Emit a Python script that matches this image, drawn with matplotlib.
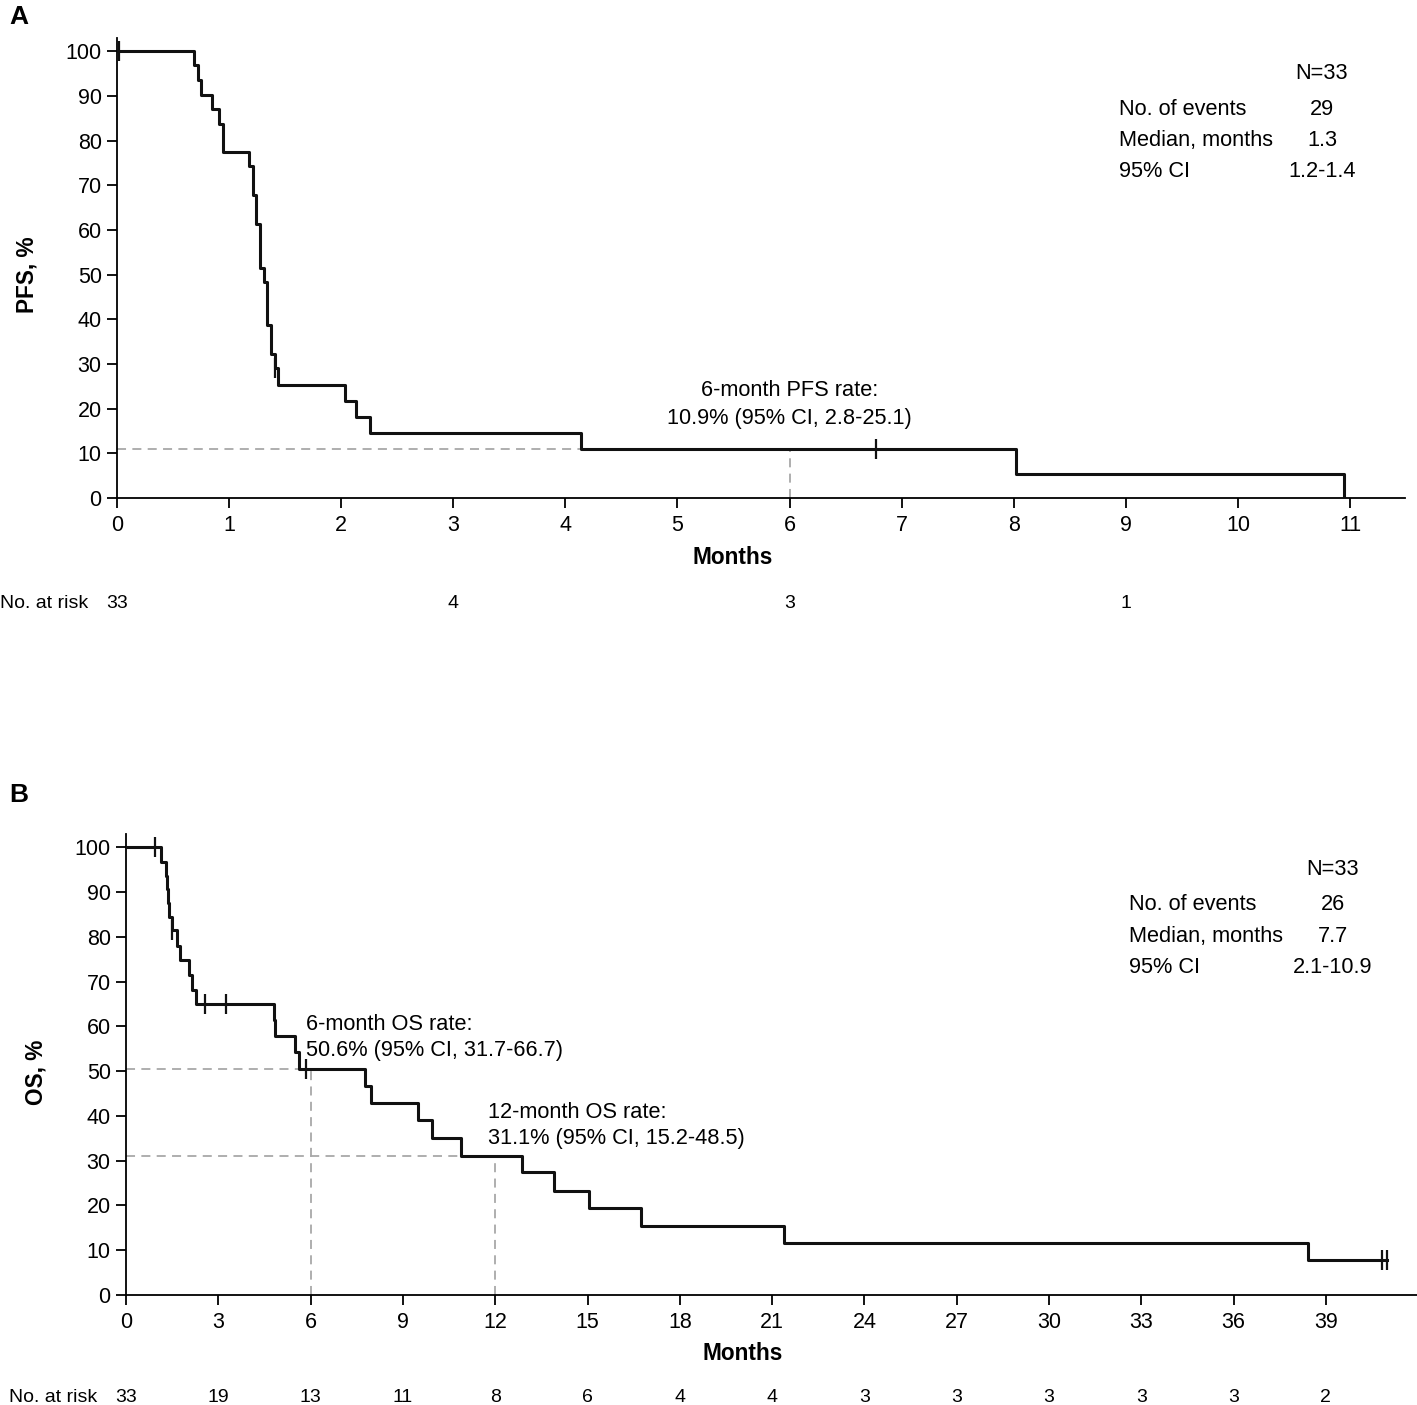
import matplotlib
matplotlib.use("Agg")
import matplotlib.pyplot as plt
import matplotlib.transforms as mtransforms

plt.rcParams['font.family'] = ['Liberation Sans', 'DejaVu Sans']

W, H = 1417, 1405

# ---- panel A: PFS ----
pfs_time = [0, 0.69, 0.72, 0.75, 0.85, 0.91, 0.95, 1.18, 1.21, 1.24, 1.28, 1.31,
            1.34, 1.37, 1.41, 1.44, 2.03, 2.13, 2.26, 4.14, 8.02, 10.95]
pfs_surv = [100, 97.0, 93.6, 90.3, 87.0, 83.8, 77.4, 74.3, 67.8, 61.4, 51.5, 48.3,
            38.7, 32.3, 29.0, 25.3, 21.7, 18.1, 14.5, 10.9, 5.4, 0]
pfs_cens_time = [0.02, 1.41, 6.77]
pfs_cens_surv = [100, 29.0, 10.9]
pfs_rate_6m = 10.9
pfs_xticks = list(range(0, 12))
pfs_risk_time = [0, 3, 6, 9]
pfs_risk_n = [33, 4, 3, 1]
pfs_stats_labels = ["No. of events", "Median, months", "95% CI"]
pfs_stats_values = ["29", "1.3", "1.2-1.4"]

# ---- panel B: OS ----
os_time = [0, 1.13, 1.30, 1.33, 1.36, 1.41, 1.51, 1.67, 1.75, 2.06, 2.14, 2.27,
           4.80, 4.85, 5.49, 5.62, 7.77, 7.95, 9.48, 9.93, 10.89, 12.86, 13.91,
           15.05, 16.73, 21.39, 38.42, 40.97]
os_surv = [100, 96.8, 93.6, 90.6, 87.6, 84.4, 81.5, 78.0, 74.8, 71.6, 68.2, 65.0,
           61.4, 57.8, 54.4, 50.6, 46.6, 42.8, 39.0, 35.0, 31.1, 27.4, 23.3,
           19.4, 15.5, 11.7, 7.8, 7.8]
os_cens_time = [0.94, 1.51, 2.57, 3.25, 5.85, 40.81, 40.97]
os_cens_surv = [100, 81.5, 65.0, 65.0, 50.6, 7.8, 7.8]
os_rate_6m = 50.6
os_rate_12m = 31.1
os_xticks = list(range(0, 40, 3))
os_risk_time = list(range(0, 40, 3))
os_risk_n = [33, 19, 13, 11, 8, 6, 4, 4, 3, 3, 3, 3, 3, 2]
os_stats_values = ["26", "7.7", "2.1-10.9"]

yticks = list(range(0, 101, 10))

FS = 15.7      # annotation / stats text
FS_TICK = 15.5
FS_LAB = 16.3
FS_RISK = 14

fig = plt.figure(figsize=(W / 100, H / 100), dpi=100)


def fx(px):
    return px / W


def fy(py):
    return 1 - py / H


def style_axes(ax, xmax, xticks):
    ax.set_xlim(0, xmax)
    ax.set_ylim(0, 103)
    ax.set_xticks(xticks)
    ax.set_yticks(yticks)
    for s in ["top", "right"]:
        ax.spines[s].set_visible(False)
    for s in ["left", "bottom"]:
        ax.spines[s].set_linewidth(1.3)
    ax.tick_params(direction="out", length=7, width=1.3, labelsize=FS_TICK, pad=4)
    ax.tick_params(axis="x", pad=5.5)


def km(ax, t, s, ct, cs):
    ax.plot(t, s, drawstyle="steps-post", color="#111111", lw=2.2, zorder=3)
    ax.plot(ct, cs, ls="none", marker="|", ms=14, mew=1.6, color="#111111", zorder=4)


dash = dict(color="#a8a8a8", lw=1.3, dashes=(5, 3.5), zorder=2)

# ---------------- Panel A ----------------
axA = fig.add_axes([fx(117), fy(498), fx(1405) - fx(117), fy(38) - fy(498)])
style_axes(axA, 11.49, pfs_xticks)
axA.plot([0, 6], [pfs_rate_6m, pfs_rate_6m], **dash)
axA.plot([6, 6], [0, pfs_rate_6m], **dash)
km(axA, pfs_time, pfs_surv, pfs_cens_time, pfs_cens_surv)

axA.text(6, 24.0, "6-month PFS rate:", ha="center", va="center", fontsize=FS)
axA.text(6, 17.8, "10.9% (95% CI, 2.8-25.1)", ha="center", va="center", fontsize=FS)

axA.text(10.75, 95.0, "N=33", ha="center", va="center", fontsize=FS)
for lab, val, yy in zip(pfs_stats_labels, pfs_stats_values, [87.1, 80.0, 73.0]):
    axA.text(8.94, yy, lab, ha="left", va="center", fontsize=FS)
    axA.text(10.75, yy, val, ha="center", va="center", fontsize=FS)

trA = mtransforms.blended_transform_factory(axA.transData, fig.transFigure)
for t, n in zip(pfs_risk_time, pfs_risk_n):
    axA.text(t, fy(604), str(n), transform=trA, ha="center", va="center", fontsize=FS_RISK)
fig.text(fx(88), fy(604), "No. at risk", ha="right", va="center", fontsize=FS_RISK)

fig.text(fx(733), fy(558), "Months", ha="center", va="center", fontsize=FS_LAB, fontweight="bold")
fig.text(fx(27), fy(275), "PFS, %", ha="center", va="center", rotation=90,
         fontsize=FS_LAB, fontweight="bold")
fig.text(fx(9), fy(17), "A", ha="left", va="center", fontsize=19, fontweight="bold")

# ---------------- Panel B ----------------
axB = fig.add_axes([fx(126), fy(1295), fx(1417) - fx(126), fy(834) - fy(1295)])
style_axes(axB, 41.96, os_xticks)
axB.plot([0, 6], [os_rate_6m, os_rate_6m], **dash)
axB.plot([6, 6], [0, os_rate_6m], **dash)
axB.plot([0, 12], [os_rate_12m, os_rate_12m], **dash)
axB.plot([12, 12], [0, os_rate_12m], **dash)
km(axB, os_time, os_surv, os_cens_time, os_cens_surv)

axB.text(5.85, 60.4, "6-month OS rate:", ha="left", va="center", fontsize=FS)
axB.text(5.85, 54.6, "50.6% (95% CI, 31.7-66.7)", ha="left", va="center", fontsize=FS)
axB.text(11.78, 40.8, "12-month OS rate:", ha="left", va="center", fontsize=FS)
axB.text(11.78, 34.9, "31.1% (95% CI, 15.2-48.5)", ha="left", va="center", fontsize=FS)

axB.text(39.23, 95.0, "N=33", ha="center", va="center", fontsize=FS)
for lab, val, yy in zip(pfs_stats_labels, os_stats_values, [87.2, 80.0, 73.1]):
    axB.text(32.6, yy, lab, ha="left", va="center", fontsize=FS)
    axB.text(39.23, yy, val, ha="center", va="center", fontsize=FS)

trB = mtransforms.blended_transform_factory(axB.transData, fig.transFigure)
for t, n in zip(os_risk_time, os_risk_n):
    axB.text(t, fy(1398), str(n), transform=trB, ha="center", va="center", fontsize=FS_RISK)
fig.text(fx(97), fy(1398), "No. at risk", ha="right", va="center", fontsize=FS_RISK)

fig.text(fx(743), fy(1354), "Months", ha="center", va="center", fontsize=FS_LAB, fontweight="bold")
fig.text(fx(36), fy(1072), "OS, %", ha="center", va="center", rotation=90,
         fontsize=FS_LAB, fontweight="bold")
fig.text(fx(9), fy(795), "B", ha="left", va="center", fontsize=19, fontweight="bold")

fig.savefig("out.png", dpi=100)
